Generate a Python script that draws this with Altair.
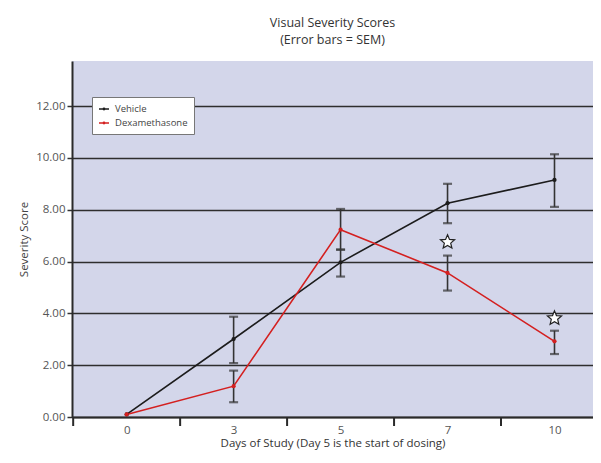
import json
import math
import altair as alt
import pandas as pd

# ---- data ----
days = ["0", "3", "5", "7", "10"]
day_index = [0, 1, 2, 3, 4]
vehicle = [0.10, 3.01, 5.97, 8.25, 9.15]
vehicle_lo = [None, 2.08, 5.42, 7.48, 8.11]
vehicle_hi = [None, 3.87, 6.46, 9.00, 10.14]
dexa = [0.10, 1.19, 7.23, 5.56, 2.92]
dexa_lo = [None, 0.57, 6.46, 4.88, 2.43]
dexa_hi = [None, 1.79, 8.03, 6.23, 3.33]
star_index = [3, 4]
star_value = [6.75, 3.81]
tick_bounds = [-0.5, 0.5, 1.5, 2.5, 3.5]
y_ticks = [0, 2, 4, 6, 8, 10, 12]
series = ["Vehicle", "Dexamethasone"]
colors = ["#1c1c1c", "#d42020"]

FONT = "Open Sans"
W, H = 521, 356

# star glyph (unit shape)
pts_s = []
for k in range(10):
    r = 1.0 if k % 2 == 0 else 0.45
    a = -math.pi / 2 + k * math.pi / 5
    pts_s.append(f"{r * math.cos(a):.3f},{r * math.sin(a):.3f}")
STAR = "M" + "L".join(pts_s) + "Z"
LEG = "M-1,0L1,0M-0.14,0A0.14,0.14,0,1,0,0.14,0A0.14,0.14,0,1,0,-0.14,0Z"

rows = []
for name, vals, lo, hi in [("Vehicle", vehicle, vehicle_lo, vehicle_hi),
                            ("Dexamethasone", dexa, dexa_lo, dexa_hi)]:
    for i, v, l, h in zip(day_index, vals, lo, hi):
        rows.append({"idx": i, "series": name, "value": v, "lo": l, "hi": h})
df = pd.DataFrame(rows)
err = df.dropna(subset=["lo"])
caps = pd.concat([
    err[["idx", "series", "lo"]].rename(columns={"lo": "cap"}),
    err[["idx", "series", "hi"]].rename(columns={"hi": "cap"}),
])
stars = pd.DataFrame({"idx": star_index, "value": star_value})
ticks = pd.DataFrame({"b": tick_bounds})

xscale = alt.Scale(domain=[-0.511, 4.36], nice=False, zero=False)
yscale = alt.Scale(domain=[0, 13.74], nice=False, zero=False)
label_expr = json.dumps(days) + "[datum.value]"
xaxis = alt.Axis(orient="bottom", values=day_index, labelExpr=label_expr, ticks=False, grid=False,
                 title="Days of Study (Day 5 is the start of dosing)",
                 domainColor="#2a2a2a", domainWidth=2, labelPadding=7,
                 labelFont=FONT, labelFontSize=11.5, labelColor="#555",
                 titleFont=FONT, titleFontSize=11.5, titleColor="#333",
                 titleFontWeight="normal", titlePadding=2)
yaxis = alt.Axis(orient="left", values=y_ticks, format=".2f", grid=True, gridColor="#2e2e2e",
                 gridWidth=1.5, tickSize=5, tickColor="#333", tickWidth=1.5,
                 domainColor="#2a2a2a", domainWidth=2, labelPadding=2,
                 labelFont=FONT, labelFontSize=11.5, labelColor="#555",
                 title="Severity Score", titleFont=FONT, titleFontSize=11.5,
                 titleColor="#444", titleFontWeight="normal", titlePadding=6)

x_enc = alt.X("idx:Q", scale=xscale, axis=xaxis)
y_enc = alt.Y("value:Q", scale=yscale, axis=yaxis)
color_scale = alt.Scale(domain=series, range=colors)
color_enc = alt.Color("series:N", scale=color_scale,
                      legend=alt.Legend(
                          title=None, orient="none", legendX=20, legendY=36,
                          fillColor="white", strokeColor="#777", padding=6,
                          labelFont=FONT, labelFontSize=9.5, labelColor="#444",
                          symbolType=LEG, symbolSize=100, symbolStrokeWidth=1.5,
                          rowPadding=3, labelOffset=5))

lines = alt.Chart(df).mark_line(strokeWidth=1.6).encode(x=x_enc, y=y_enc, color=color_enc)

bars = alt.Chart(err).mark_rule(color="#333", strokeWidth=1.6).encode(
    x=x_enc, y=alt.Y("lo:Q", scale=yscale, axis=yaxis), y2="hi:Q")

cap_marks = alt.Chart(caps).mark_tick(color="#333", size=9, thickness=2.2,
                                      orient="horizontal").encode(
    x=x_enc, y=alt.Y("cap:Q", scale=yscale, axis=yaxis))

pts = alt.Chart(df).mark_point(filled=True, size=18, opacity=1).encode(
    x=x_enc, y=y_enc, color=color_enc)

star_marks = alt.Chart(stars).mark_point(shape=STAR, filled=True, fill="white",
                                         stroke="#222", strokeWidth=1.2, size=220,
                                         opacity=1).encode(x=x_enc, y=y_enc)

tick_marks = alt.Chart(ticks).mark_rule(color="#2a2a2a", strokeWidth=2).encode(
    x=alt.X("b:Q", scale=xscale, axis=xaxis), y=alt.value(H), y2=alt.value(H + 9))

chart = alt.layer(lines, bars, cap_marks, pts, star_marks, tick_marks).properties(
    width=W, height=H,
    title=alt.TitleParams(["Visual Severity Scores", "(Error bars = SEM)"],
                          font=FONT, fontSize=12.5, fontWeight="normal",
                          color="#333", anchor="middle", offset=15, lineHeight=17),
    padding={"left": 64, "top": 53, "right": 0, "bottom": 38},
    autosize=alt.AutoSizeParams(type="none"),
).configure_view(fill="#d3d6ea", stroke=None)

chart.save("out.html", embed_options={"renderer": "svg", "actions": False})
